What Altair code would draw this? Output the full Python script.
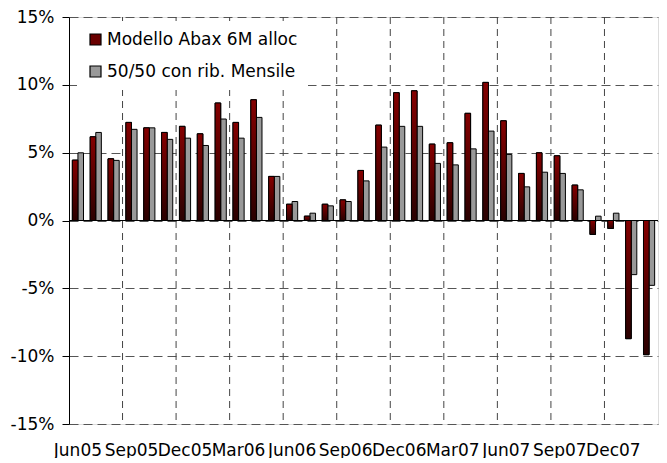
import altair as alt
import pandas as pd

months = ["Jun05", "Jul05", "Aug05", "Sep05", "Oct05", "Nov05", "Dec05", "Jan06", "Feb06",
          "Mar06", "Apr06", "May06", "Jun06", "Jul06", "Aug06", "Sep06", "Oct06", "Nov06",
          "Dec06", "Jan07", "Feb07", "Mar07", "Apr07", "May07", "Jun07", "Jul07", "Aug07",
          "Sep07", "Oct07", "Nov07", "Dec07", "Jan08", "Feb08"]
abax = [4.45, 6.17, 4.55, 7.23, 6.83, 6.49, 6.94, 6.39, 8.66, 7.23, 8.90, 3.25, 1.20,
        0.32, 1.20, 1.52, 3.69, 7.03, 9.42, 9.56, 5.63, 5.73, 7.90, 10.18, 7.35, 3.47,
        4.99, 4.77, 2.61, -1.03, -0.59, -8.71, -9.89]
fifty = [4.99, 6.49, 4.43, 6.72, 6.83, 5.98, 6.07, 5.53, 7.48, 6.07, 7.60, 3.25, 1.40,
         0.54, 1.08, 1.40, 2.92, 5.41, 6.94, 6.94, 4.21, 4.10, 5.28, 6.59, 4.87, 2.48,
         3.56, 3.47, 2.26, 0.32, 0.54, -3.99, -4.78]
series_names = ["Modello Abax 6M alloc", "50/50 con rib. Mensile"]
label_months = ["Jun05", "Sep05", "Dec05", "Mar06", "Jun06", "Sep06", "Dec06", "Mar07",
                "Jun07", "Sep07", "Dec07"]
grid_months = label_months[1:]
y_ticks = [-15, -10, -5, 0, 5, 10, 15]

rows = []
for m, a, f in zip(months, abax, fifty):
    rows.append({"month": m, "series": series_names[0], "value": a})
    rows.append({"month": m, "series": series_names[1], "value": f})
df = pd.DataFrame(rows)
grid_df = pd.DataFrame({"month": grid_months})
zero_df = pd.DataFrame({"value": [0]})

FONT = "DejaVu Sans"

x_axis = alt.Axis(title=None, values=label_months, labelAngle=0, ticks=False,
                  domain=False, labelPadding=18, labelOverlap=False,
                  labelFont=FONT, labelFontSize=17, labelColor="black")
y_axis = alt.Axis(title=None, values=y_ticks, labelExpr="datum.value + '%'",
                  tickSize=7, tickColor="black", domainColor="black",
                  labelPadding=8, labelFont=FONT, labelFontSize=17,
                  labelColor="black",
                  grid=True, gridColor="#555555", gridDash=[9, 5], gridWidth=1)

x_enc = alt.X("month:N", sort=months,
              scale=alt.Scale(domain=months, paddingInner=0, paddingOuter=0),
              axis=x_axis)
y_enc = alt.Y("value:Q", scale=alt.Scale(domain=[-15, 15], nice=False), axis=y_axis)
xoff = alt.XOffset("series:N", sort=series_names,
                   scale=alt.Scale(domain=series_names, paddingInner=0, paddingOuter=0.6))

bars = alt.Chart(df).mark_bar(stroke="black", strokeWidth=1).encode(
    x=x_enc,
    xOffset=xoff,
    y=y_enc,
    y2=alt.datum(0),
    color=alt.Color("series:N", sort=series_names,
                    scale=alt.Scale(domain=series_names, range=["#6a0000", "#999999"]),
                    legend=alt.Legend(title=None, orient="none", legendX=8, legendY=4,
                                      fillColor="white", padding=10,
                                      symbolType="square", symbolSize=121,
                                      symbolStrokeColor="black", symbolStrokeWidth=1.2,
                                      labelFont=FONT, labelFontSize=17, labelColor="black",
                                      labelOffset=3, rowPadding=14, labelLimit=400)),
)

gradient = {
    "gradient": "linear", "x1": 0, "y1": 0, "x2": 0, "y2": 1,
    "stops": [{"offset": 0, "color": "#850000"}, {"offset": 1, "color": "#2a0000"}],
}
red_bars = alt.Chart(df).transform_filter(
    alt.datum.series == series_names[0]
).mark_bar(stroke="black", strokeWidth=1).encode(
    x=x_enc,
    xOffset=xoff,
    y=y_enc,
    y2=alt.datum(0),
    fill=alt.value(gradient),
)

grid_rules = alt.Chart(grid_df).mark_rule(color="#444444", strokeDash=[7, 5], strokeWidth=1).encode(
    x=alt.X("month:N", sort=months, bandPosition=0,
            scale=alt.Scale(domain=months, paddingInner=0, paddingOuter=0), axis=x_axis)
)

zero_rule = alt.Chart(zero_df).mark_rule(color="black", strokeWidth=1.2).encode(
    y=y_enc
)

chart = alt.layer(bars, red_bars, grid_rules, zero_rule).properties(
    width=589, height=407,
    padding={"left": 2, "top": 0, "right": 0, "bottom": 0},
).configure_view(
    stroke="black", strokeWidth=1
).configure(background="white")

chart.save("out.html", embed_options={"renderer": "svg", "actions": False})
